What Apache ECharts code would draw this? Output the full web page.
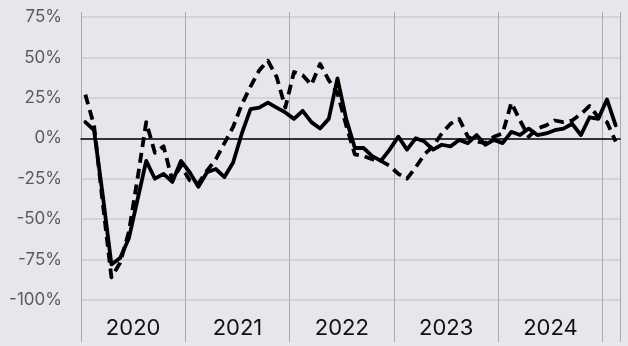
<!DOCTYPE html>
<html>
<head>
<meta charset="utf-8">
<script src="https://cdn.jsdelivr.net/npm/echarts@6/dist/echarts.min.js"></script>
<style>
  html, body { margin: 0; padding: 0; background: #e9e5ec; }
  #chart { width: 628px; height: 346px; }
</style>
</head>
<body>
<div id="chart"></div>
<script>
// Year labels along the bottom and the percentage ticks on the left
const years = ['2020', '2021', '2022', '2023', '2024'];
const yTicks = [-100, -75, -50, -25, 0, 25, 50, 75];

// Monthly categories, Jan 2020 – Feb 2025
const startYear = 2020;
const monthCount = 62;
const months = [];
for (let i = 0; i < monthCount; i++) {
  const y = startYear + Math.floor(i / 12);
  const m = (i % 12) + 1;
  months.push(y + '-' + String(m).padStart(2, '0'));
}

// Year-over-year change, % (solid line)
const solidValues = [
  10, 5, -35, -78, -74, -62, -38, -14, -25, -22, -27, -14,
  -21, -30, -21, -19, -24, -15, 3, 18, 19, 22, 19, 16,
  12, 17, 10, 6, 12, 37, 12, -6, -6, -11, -14, -7,
  1, -7, 0, -2, -7, -4, -5, -1, -3, 2, -4, -1,
  -3, 4, 2, 6, 2, 3, 5, 6, 9, 2, 13, 12,
  24, 8
];

// Year-over-year change, % (dashed line)
const dashedValues = [
  27, 8, -40, -86, -77, -58, -25, 10, -9, -5, -26, -17,
  -26, -28, -20, -13, -3, 7, 21, 32, 42, 48, 38, 19,
  41, 39, 33, 46, 36, 28, 8, -10, -11, -13, -14, -17,
  -22, -25, -18, -10, -5, 3, 9, 12, 1, -2, -3, 1,
  3, 22, 11, 1, 6, 8, 11, 10, 11, 15, 20, 13,
  10, -2
];

const yearBoundary = (idx) => idx % 12 === 0;
const vGray = '#a9a9ab';

const chart = echarts.init(document.getElementById('chart'), null, { renderer: 'canvas' });

chart.setOption({
  backgroundColor: '#e9e5ec',
  animation: false,
  grid: { left: 81, right: 8, top: 17, bottom: 46, containLabel: false, outerBoundsMode: 'none' },
  xAxis: [
    {
      // data axis: zero line and year split lines
      type: 'category',
      data: months,
      boundaryGap: true,
      axisLine: { show: true, onZero: true, lineStyle: { color: '#000', width: 1.6 } },
      axisTick: { show: false },
      axisLabel: { show: false },
      splitLine: { show: true, interval: yearBoundary, lineStyle: { color: vGray, width: 1 } }
    },
    {
      // year separators running down through the label band
      type: 'category',
      data: months,
      boundaryGap: true,
      position: 'bottom',
      axisLine: { show: false, onZero: false },
      axisTick: { show: true, interval: yearBoundary, length: 42, lineStyle: { color: vGray, width: 1 } },
      axisLabel: { show: false },
      splitLine: { show: false }
    },
    {
      // year labels centred in each year band
      type: 'value',
      min: 0,
      max: monthCount,
      interval: 6,
      position: 'bottom',
      axisLine: { show: false, onZero: false },
      axisTick: { show: false },
      splitLine: { show: false },
      axisLabel: {
        show: true,
        margin: 17,
        color: '#111',
        fontFamily: 'Inter',
        fontSize: 22,
        showMinLabel: false,
        showMaxLabel: false,
        formatter: (v) => (v % 12 === 6 ? (years[(v - 6) / 12] || '') : '')
      }
    },
    {
      // short stubs of the separators above the plot
      type: 'category',
      data: months,
      boundaryGap: true,
      position: 'top',
      axisLine: { show: false, onZero: false },
      axisTick: { show: true, interval: yearBoundary, length: 5, lineStyle: { color: vGray, width: 1 } },
      axisLabel: { show: false },
      splitLine: { show: false }
    }
  ],
  yAxis: {
    type: 'value',
    min: yTicks[0],
    max: yTicks[yTicks.length - 1],
    interval: 25,
    axisLine: { show: false },
    axisTick: { show: false },
    axisLabel: {
      margin: 19,
      color: '#5a5a5c',
      fontFamily: 'Inter',
      fontSize: 17,
      formatter: (v) => v + '%'
    },
    splitLine: { show: true, lineStyle: { color: '#d5d3d8', width: 2 } }
  },
  series: [
    {
      name: 'dashed',
      type: 'line',
      xAxisIndex: 0,
      data: dashedValues,
      symbol: 'none',
      lineStyle: { color: '#000', width: 3.8, type: [10, 6], cap: 'butt', join: 'round' },
      z: 3
    },
    {
      name: 'solid',
      type: 'line',
      xAxisIndex: 0,
      data: solidValues,
      symbol: 'none',
      lineStyle: { color: '#000', width: 3.8, cap: 'round', join: 'round' },
      z: 4
    }
  ]
});
</script>
</body>
</html>
